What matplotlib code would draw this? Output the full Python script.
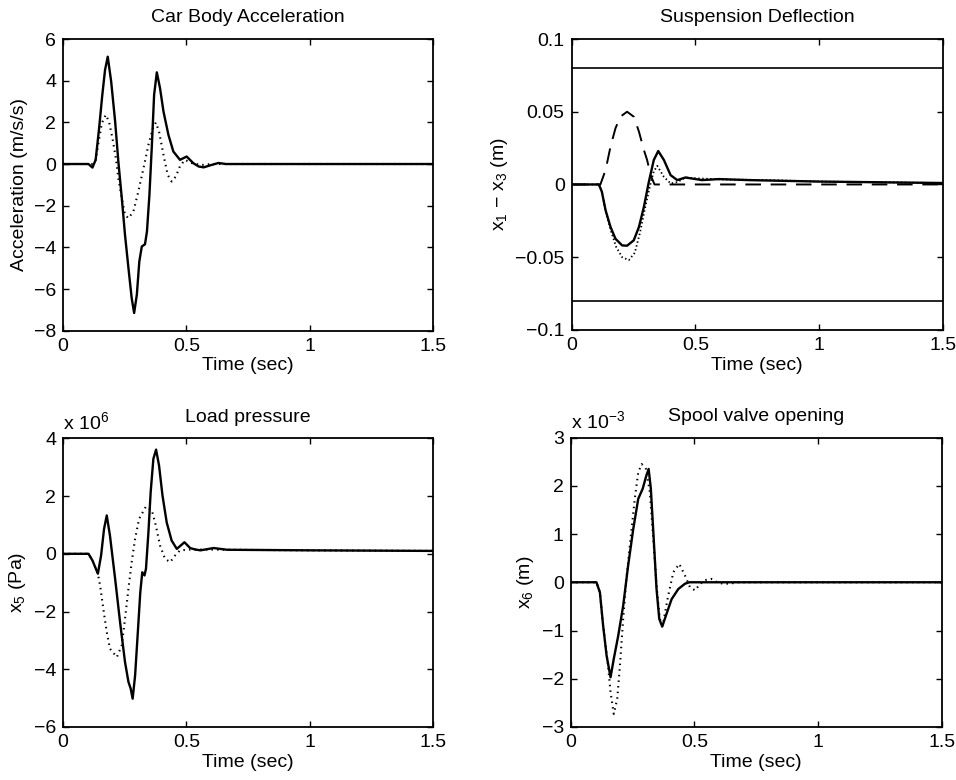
import numpy as np
import matplotlib.pyplot as plt
from matplotlib.ticker import FuncFormatter

plt.rcParams['font.family'] = ['Liberation Sans', 'DejaVu Sans']
plt.rcParams['font.size'] = 14
plt.rcParams['axes.unicode_minus'] = True

# Car body acceleration (m/s/s)
t_acc_s = [0, 0.103, 0.119, 0.132, 0.146, 0.159, 0.170, 0.181, 0.195, 0.211, 0.224, 0.238,
           0.251, 0.265, 0.278, 0.288, 0.299, 0.309, 0.319, 0.332, 0.340, 0.350, 0.360,
           0.369, 0.380, 0.393, 0.407, 0.427, 0.447, 0.474, 0.501, 0.528, 0.55, 0.57,
           0.60, 0.63, 0.66, 1.5]
acc_s = [0, 0, -0.17, 0.2, 1.72, 3.32, 4.51, 5.15, 3.95, 2.04, 0.12, -1.64,
         -3.4, -5.0, -6.43, -7.15, -6.27, -4.68, -3.96, -3.85, -3.24, -1.48, 0.92,
         3.32, 4.4, 3.64, 2.52, 1.4, 0.6, 0.2, 0.36, 0.04, -0.12, -0.16,
         -0.05, 0.05, 0, 0]
t_acc_d = [0, 0.12, 0.132, 0.142, 0.157, 0.173, 0.186, 0.200, 0.214, 0.224, 0.238, 0.251,
           0.265, 0.285, 0.305, 0.326, 0.346, 0.364, 0.376, 0.389, 0.407, 0.424, 0.44,
           0.457, 0.474, 0.494, 0.52, 0.56, 0.6, 1.5]
acc_d = [0, 0, 0.2, 0.92, 1.96, 2.36, 2.04, 1.24, 0.28, -0.68, -1.64, -2.44,
         -2.6, -2.28, -1.32, -0.2, 0.92, 1.72, 1.99, 1.56, 0.44, -0.52, -0.84,
         -0.6, -0.1, 0.2, 0.05, -0.05, 0, 0]

# Suspension deflection x1 - x3 (m)
t_sd_s = [0, 0.11, 0.122, 0.137, 0.157, 0.177, 0.204, 0.224, 0.251, 0.272, 0.292, 0.312,
          0.332, 0.350, 0.373, 0.40, 0.427, 0.46, 0.527, 0.595, 0.716, 1.0, 1.5]
sd_s = [0, 0, -0.005, -0.0177, -0.0292, -0.0373, -0.0419, -0.0421, -0.0384, -0.0292, -0.0154, 0.0018,
        0.0168, 0.023, 0.0168, 0.0064, 0.003, 0.0048, 0.003, 0.0037, 0.003, 0.002, 0.001]
t_sd_d = [0, 0.11, 0.122, 0.137, 0.157, 0.18, 0.204, 0.231, 0.255, 0.275, 0.297, 0.318, 0.332,
          0.346, 0.373, 0.40, 0.427, 0.46, 0.495, 0.6, 0.8, 1.0, 1.5]
sd_d = [0, 0, -0.005, -0.018, -0.031, -0.043, -0.050, -0.052, -0.047, -0.034, -0.016, 0.0, 0.009,
        0.0128, 0.0052, 0.0007, 0.0016, 0.0048, 0.0043, 0.0035, 0.003, 0.002, 0.001]
t_road = [0, 0.116, 0.137, 0.157, 0.177, 0.197, 0.224, 0.251, 0.272, 0.292, 0.305, 0.32, 0.335, 1.5]
road = [0, 0, 0.0099, 0.026, 0.0386, 0.0466, 0.050, 0.0466, 0.0363, 0.0237, 0.0168, 0.006, 0, 0]
sd_limit = 0.08

# Load pressure x5 (Pa)
t_p_s = [0, 0.103, 0.119, 0.141, 0.154, 0.166, 0.177, 0.19, 0.211, 0.231, 0.251, 0.265,
         0.274, 0.282, 0.292, 0.303, 0.313, 0.321, 0.33, 0.336, 0.346, 0.355, 0.366,
         0.377, 0.389, 0.403, 0.42, 0.44, 0.461, 0.492, 0.515, 0.535, 0.557, 0.61,
         0.665, 1.0, 1.5]
p_s = np.array([0, 0, -0.23, -0.69, -0.06, 0.86, 1.33, 0.63, -0.87, -2.37, -3.75, -4.44,
                -4.67, -5.02, -4.21, -2.71, -1.33, -0.64, -0.75, -0.52, 0.75, 2.13, 3.29,
                3.61, 3.06, 2.02, 1.09, 0.46, 0.17, 0.4, 0.2, 0.15, 0.12, 0.2,
                0.14, 0.12, 0.1]) * 1e6
t_p_d = [0, 0.103, 0.119, 0.141, 0.15, 0.163, 0.177, 0.19, 0.218, 0.238, 0.251, 0.265,
         0.278, 0.292, 0.308, 0.336, 0.36, 0.376, 0.393, 0.413, 0.434, 0.454, 0.474,
         0.52, 1.0, 1.5]
p_d = np.array([0, 0, -0.23, -0.69, -1.1, -1.9, -2.71, -3.29, -3.58, -3.17, -2.25, -1.21,
                -0.29, 0.52, 1.21, 1.64, 1.5, 0.98, 0.29, -0.17, -0.29, -0.06, 0.12,
                0.15, 0.12, 0.1]) * 1e6

# Spool valve opening x6 (m)
t_v_s = [0, 0.104, 0.118, 0.131, 0.145, 0.161, 0.174, 0.192, 0.212, 0.232, 0.253, 0.273,
         0.291, 0.304, 0.315, 0.324, 0.334, 0.347, 0.358, 0.37, 0.385, 0.408, 0.435,
         0.462, 0.48, 1.5]
v_s = np.array([0, 0, -0.21, -0.9, -1.52, -1.97, -1.59, -1.11, -0.49, 0.34, 1.11, 1.73,
                1.94, 2.18, 2.35, 1.94, 1.04, -0.14, -0.76, -0.92, -0.69, -0.35, -0.14,
                -0.03, 0, 0]) * 1e-3
t_v_d = [0, 0.104, 0.118, 0.131, 0.151, 0.161, 0.174, 0.188, 0.199, 0.212, 0.225, 0.242,
         0.259, 0.273, 0.287, 0.304, 0.32, 0.334, 0.347, 0.36, 0.372, 0.394, 0.415,
         0.439, 0.462, 0.482, 0.503, 0.523, 0.548, 0.568, 0.6, 0.64, 0.68, 1.5]
v_d = np.array([0, 0, -0.21, -0.9, -1.73, -2.28, -2.73, -2.42, -1.73, -0.76, 0.07, 0.9,
                1.73, 2.28, 2.45, 2.35, 1.87, 0.9, -0.07, -0.76, -0.9, -0.28, 0.21,
                0.38, 0.14, -0.1, -0.17, -0.03, 0.05, 0.07, -0.02, -0.03, 0, 0]) * 1e-3

fig = plt.figure(figsize=(9.56, 7.8), dpi=100)
ax1 = fig.add_axes([0.066, 0.576, 0.387, 0.374])
ax2 = fig.add_axes([0.598, 0.577, 0.388, 0.373])
ax3 = fig.add_axes([0.066, 0.068, 0.387, 0.370])
ax4 = fig.add_axes([0.597, 0.068, 0.388, 0.371])

solid = dict(color='black', lw=1.7)
dotted = dict(color='black', lw=1.5, linestyle=(0, (0.7, 2.0)))


def fmt(scale=1.0):
    return FuncFormatter(lambda v, _: f'{v / scale:g}'.replace('-', '\u2212'))


ax1.plot(t_acc_d, acc_d, **dotted)
ax1.plot(t_acc_s, acc_s, **solid)
ax1.set_ylim(-8, 6)
ax1.set_yticks(np.arange(-8, 7, 2))
ax1.set_ylabel('Acceleration (m/s/s)')
ax1.set_title('Car Body Acceleration', fontsize=14, pad=12)

ax2.axhline(sd_limit, color='black', lw=1.2)
ax2.axhline(-sd_limit, color='black', lw=1.2)
ax2.plot(t_road, road, color='black', lw=1.4, dashes=(8, 5))
ax2.plot(t_sd_d, sd_d, color='black', lw=1.3, linestyle=(0, (0.8, 1.4)))
ax2.plot(t_sd_s, sd_s, **solid)
ax2.set_ylim(-0.1, 0.1)
ax2.set_yticks([-0.1, -0.05, 0, 0.05, 0.1])
ax2.set_ylabel('x$_\\mathregular{1}$ \u2212 x$_\\mathregular{3}$ (m)')
ax2.set_title('Suspension Deflection', fontsize=14, pad=12)

ax3.plot(t_p_d, p_d, **dotted)
ax3.plot(t_p_s, p_s, **solid)
ax3.set_ylim(-6e6, 4e6)
ax3.set_yticks(np.arange(-6e6, 4.1e6, 2e6))
ax3.yaxis.set_major_formatter(fmt(1e6))
ax3.set_ylabel('x$_\\mathregular{5}$ (Pa)')
ax3.set_title('Load pressure', fontsize=14, pad=12)
ax3.text(0, 1.015, r'x 10$^{\mathregular{6}}$', transform=ax3.transAxes, ha='left', va='bottom')

ax4.plot(t_v_d, v_d, **dotted)
ax4.plot(t_v_s, v_s, **solid)
ax4.set_ylim(-3e-3, 3e-3)
ax4.set_yticks(np.arange(-3e-3, 3.1e-3, 1e-3))
ax4.yaxis.set_major_formatter(fmt(1e-3))
ax4.set_ylabel('x$_\\mathregular{6}$ (m)')
ax4.set_title('Spool valve opening', fontsize=14, pad=12)
ax4.text(0, 1.015, r'x 10$^{\mathregular{-3}}$', transform=ax4.transAxes, ha='left', va='bottom')

for ax in (ax1, ax2, ax3, ax4):
    ax.set_xlim(0, 1.5)
    ax.set_xticks([0, 0.5, 1, 1.5])
    ax.xaxis.set_major_formatter(fmt())
    if ax in (ax1, ax2):
        ax.yaxis.set_major_formatter(fmt())
    ax.set_xlabel('Time (sec)', labelpad=2)
    ax.tick_params(direction='in', length=4, width=1, top=True, right=True, labelsize=14, pad=5)
    for s in ax.spines.values():
        s.set_linewidth(1.3)

fig.savefig('out.png', dpi=100)
